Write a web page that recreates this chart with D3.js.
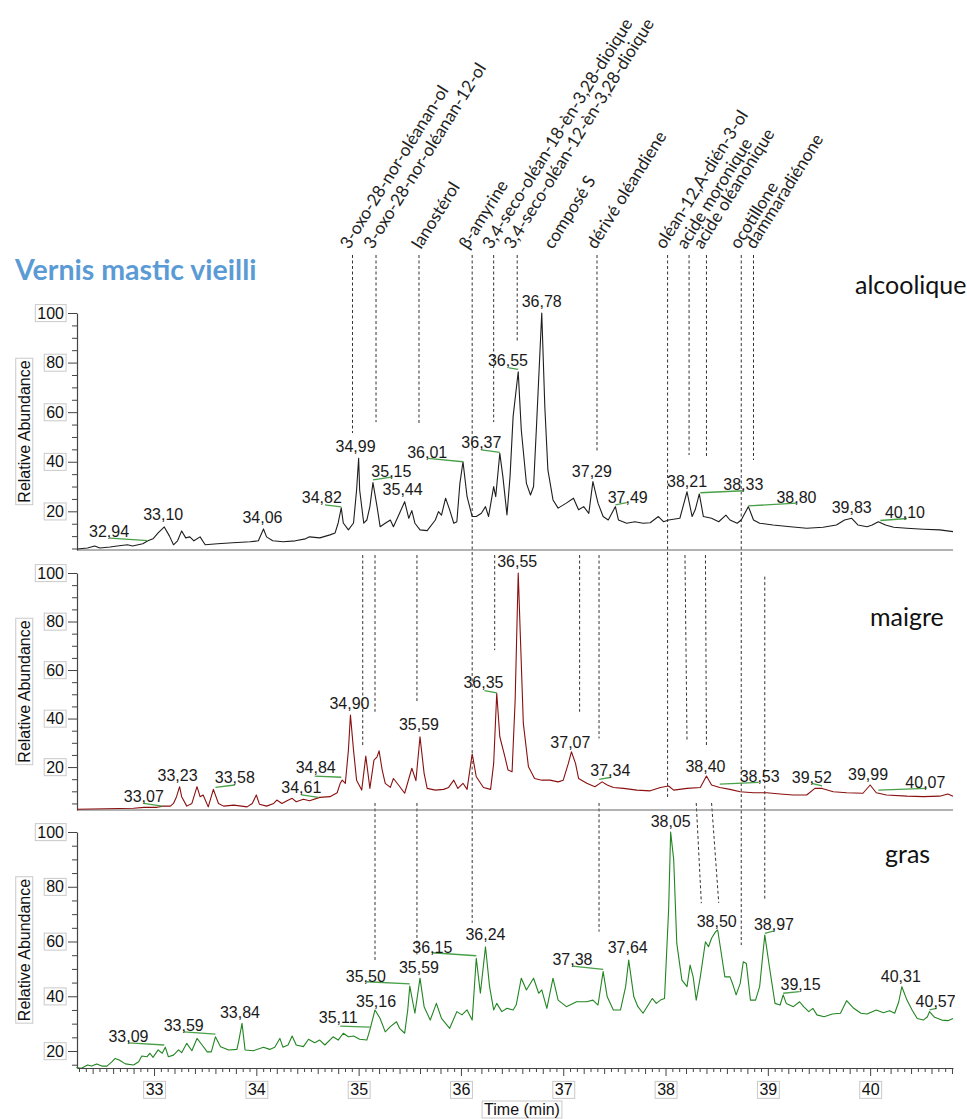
<!DOCTYPE html>
<html><head><meta charset="utf-8">
<script src="https://cdn.jsdelivr.net/npm/d3@7"></script>
<style>body{margin:0;background:#fff}svg{display:block}</style>
</head><body>
<svg id="c" width="967" height="1119"></svg>
<script>
// ---------------- DATA ----------------
const alcooliqueTrace = [[32.25,4.8],[32.35,5.2],[32.42,6.0],[32.47,5.2],[32.57,5.6],[32.64,6.0],[32.74,6.5],[32.79,6.0],[32.89,6.9],[32.94,8.1],[32.99,8.9],[33.04,11.3],[33.10,13.7],[33.15,10.1],[33.19,6.5],[33.23,8.1],[33.27,12.1],[33.31,9.3],[33.35,9.7],[33.39,8.1],[33.45,9.7],[33.50,6.5],[33.62,6.9],[33.77,7.3],[33.94,7.7],[34.02,8.1],[34.07,12.9],[34.10,9.7],[34.16,8.1],[34.26,7.7],[34.38,8.1],[34.48,8.9],[34.52,9.7],[34.62,9.3],[34.72,10.5],[34.77,11.3],[34.80,15.3],[34.83,21.4],[34.85,15.3],[34.90,12.5],[34.95,15.3],[34.98,28.6],[35.00,41.4],[35.01,28.6],[35.05,15.2],[35.08,16.5],[35.11,21.9],[35.14,31.6],[35.18,21.9],[35.21,13.8],[35.26,15.2],[35.31,16.5],[35.34,13.8],[35.40,19.2],[35.45,23.9],[35.49,17.2],[35.52,20.3],[35.55,15.2],[35.60,12.5],[35.67,12.2],[35.75,16.5],[35.78,19.9],[35.81,18.5],[35.85,25.3],[35.89,20.6],[35.93,15.2],[35.96,15.8],[35.99,31.3],[36.02,40.0],[36.06,25.9],[36.11,17.9],[36.15,17.9],[36.20,19.2],[36.24,21.9],[36.27,17.9],[36.32,30.0],[36.34,25.9],[36.38,43.4],[36.41,34.0],[36.45,18.5],[36.48,34.0],[36.51,58.2],[36.56,76.3],[36.59,52.8],[36.64,31.3],[36.68,26.6],[36.71,30.0],[36.74,55.5],[36.79,100],[36.82,62.2],[36.85,36.7],[36.90,24.6],[36.95,21.3],[37.03,23.3],[37.10,25.3],[37.15,20.6],[37.20,21.9],[37.25,19.2],[37.29,32.0],[37.34,23.3],[37.39,17.9],[37.44,16.5],[37.51,21.9],[37.54,16.5],[37.62,15.2],[37.70,15.8],[37.78,15.2],[37.85,15.4],[37.93,17.9],[37.98,15.8],[38.03,16.5],[38.14,17.2],[38.21,27.9],[38.26,17.9],[38.29,20.6],[38.33,27.0],[38.37,17.9],[38.45,17.2],[38.52,15.8],[38.59,18.5],[38.63,16.5],[38.70,15.2],[38.74,16.5],[38.81,21.9],[38.86,16.5],[38.92,15.2],[39.05,14.5],[39.22,13.8],[39.38,13.2],[39.54,13.6],[39.67,14.5],[39.75,16.5],[39.82,17.2],[39.88,14.5],[39.97,13.8],[40.02,14.5],[40.08,15.8],[40.15,14.5],[40.23,13.6],[40.36,13.2],[40.52,12.8],[40.68,12.5],[40.81,11.8]];

const maigreTrace = [[32.25,2.6],[32.80,3.0],[32.90,3.4],[33.03,3.4],[33.09,3.9],[33.16,3.9],[33.19,5.0],[33.22,7.8],[33.25,11.9],[33.27,7.8],[33.32,3.9],[33.37,5.0],[33.42,11.9],[33.45,7.8],[33.48,8.5],[33.53,3.6],[33.58,10.8],[33.63,5.0],[33.68,3.9],[33.78,4.3],[33.91,3.6],[33.96,5.0],[34.00,8.5],[34.03,4.7],[34.10,3.9],[34.17,5.0],[34.20,6.4],[34.25,5.0],[34.30,6.1],[34.35,7.1],[34.39,5.7],[34.46,6.7],[34.52,6.1],[34.62,7.5],[34.72,7.8],[34.79,9.4],[34.82,13.3],[34.84,14.6],[34.87,13.3],[34.90,27.0],[34.92,41.4],[34.95,27.0],[34.98,14.6],[35.03,10.5],[35.07,24.5],[35.11,11.2],[35.15,22.9],[35.18,24.2],[35.20,26.7],[35.23,18.8],[35.26,13.3],[35.31,11.6],[35.34,15.3],[35.39,12.6],[35.45,9.2],[35.52,19.5],[35.56,14.4],[35.60,32.5],[35.64,17.4],[35.67,11.2],[35.75,10.5],[35.83,10.8],[35.88,11.6],[35.93,14.6],[35.97,11.2],[36.02,13.3],[36.06,10.8],[36.11,25.4],[36.15,16.0],[36.22,11.6],[36.29,10.8],[36.32,21.5],[36.35,50.4],[36.38,32.5],[36.43,24.2],[36.46,18.8],[36.50,18.1],[36.53,47.6],[36.56,100],[36.58,75.1],[36.61,38.0],[36.66,20.1],[36.72,15.3],[36.79,14.6],[36.87,14.6],[36.95,13.9],[37.00,14.6],[37.05,21.5],[37.08,26.3],[37.12,21.5],[37.15,15.3],[37.23,13.3],[37.31,11.9],[37.38,13.9],[37.43,12.6],[37.49,11.6],[37.59,11.2],[37.72,10.5],[37.85,10.2],[37.95,11.6],[38.03,12.2],[38.08,10.5],[38.21,11.2],[38.34,11.6],[38.40,16.3],[38.45,12.6],[38.53,11.6],[38.63,10.8],[38.73,9.8],[38.86,9.4],[38.99,9.4],[39.12,8.9],[39.25,8.5],[39.38,8.5],[39.46,11.2],[39.53,11.2],[39.64,9.8],[39.77,9.4],[39.93,9.2],[40.00,12.6],[40.06,9.4],[40.16,8.5],[40.36,8.0],[40.52,7.8],[40.68,8.0],[40.76,8.9],[40.81,8.0]];

const grasTrace = [[32.24,14.0],[32.29,13.7],[32.35,14.9],[32.39,14.5],[32.44,15.3],[32.49,14.5],[32.54,14.5],[32.59,16.1],[32.62,17.3],[32.66,16.7],[32.72,15.3],[32.80,14.9],[32.85,16.1],[32.88,18.2],[32.93,17.9],[32.96,19.2],[32.99,17.7],[33.04,20.4],[33.08,19.2],[33.11,21.4],[33.14,17.9],[33.19,18.5],[33.24,20.4],[33.27,19.4],[33.32,22.8],[33.37,20.1],[33.42,24.6],[33.47,22.2],[33.52,19.7],[33.56,19.7],[33.60,25.2],[33.65,21.6],[33.73,20.4],[33.81,20.6],[33.83,24.0],[33.86,30.1],[33.89,20.4],[33.97,20.1],[34.07,21.4],[34.13,20.6],[34.18,21.4],[34.23,24.6],[34.26,21.4],[34.31,22.2],[34.35,25.5],[34.39,22.2],[34.46,21.6],[34.51,24.3],[34.57,23.0],[34.62,24.0],[34.67,22.2],[34.75,25.2],[34.80,24.0],[34.85,26.5],[34.90,25.2],[34.95,25.5],[35.01,24.3],[35.08,24.0],[35.11,27.7],[35.16,35.0],[35.21,31.9],[35.26,27.0],[35.31,28.9],[35.37,30.7],[35.40,28.3],[35.45,26.5],[35.48,35.0],[35.50,43.7],[35.55,33.8],[35.60,46.6],[35.64,36.2],[35.70,31.3],[35.76,37.4],[35.81,31.9],[35.89,28.3],[35.96,34.4],[36.01,33.2],[36.06,35.0],[36.11,31.3],[36.15,53.9],[36.19,41.1],[36.24,58.1],[36.28,43.5],[36.32,35.0],[36.35,37.4],[36.40,34.4],[36.45,35.6],[36.51,35.0],[36.54,36.8],[36.59,46.6],[36.64,42.3],[36.71,46.6],[36.76,41.1],[36.79,42.3],[36.84,35.6],[36.90,46.6],[36.95,38.6],[37.03,36.2],[37.13,38.0],[37.23,38.0],[37.29,38.6],[37.34,36.8],[37.39,49.0],[37.43,39.8],[37.49,35.0],[37.56,35.0],[37.61,43.5],[37.64,53.2],[37.69,39.8],[37.73,36.2],[37.78,33.8],[37.87,39.2],[37.91,37.4],[37.95,38.6],[37.99,39.2],[38.03,71.5],[38.05,100],[38.08,89.8],[38.11,59.3],[38.16,45.9],[38.21,43.5],[38.24,51.4],[38.27,47.1],[38.30,38.6],[38.34,47.1],[38.39,59.9],[38.42,58.1],[38.45,61.2],[38.49,63.6],[38.51,64.2],[38.54,56.9],[38.58,47.1],[38.63,47.1],[38.66,44.1],[38.69,40.5],[38.73,44.7],[38.76,52.6],[38.79,52.0],[38.83,38.6],[38.88,38.6],[38.92,43.5],[38.97,62.4],[39.02,49.6],[39.07,37.4],[39.12,36.8],[39.15,40.5],[39.18,37.4],[39.25,36.2],[39.31,38.0],[39.35,36.2],[39.40,34.4],[39.44,35.6],[39.48,33.2],[39.55,32.5],[39.63,33.5],[39.71,33.8],[39.77,38.4],[39.84,35.6],[39.91,33.8],[39.97,33.5],[40.06,35.0],[40.13,34.0],[40.19,34.7],[40.24,33.8],[40.28,38.0],[40.31,43.5],[40.36,38.6],[40.41,35.0],[40.46,31.9],[40.52,31.3],[40.56,32.5],[40.58,34.4],[40.63,32.3],[40.70,31.3],[40.76,31.1],[40.81,31.9]];

// peak labels: [text, time (centre), abundance (baseline)]
const alcooliqueLabels = [["32,94",32.56,9.8],["33,10",33.09,16.5],["34,06",34.06,15.3],["34,82",34.64,23.4],["34,99",34.97,44.1],["35,15",35.32,34.0],["35,44",35.43,26.6],["36,01",35.67,41.5],["36,37",36.20,45.6],["36,55",36.46,78.6],["36,78",36.79,102.4],["37,29",37.28,34.0],["37,49",37.63,23.4],["38,21",38.21,30.0],["38,33",38.76,28.6],["38,80",39.28,23.4],["39,83",39.82,19.4],["40,10",40.34,17.3]];
const alcooliqueLeaders = [[32.57,9.2,32.94,8.2],[34.67,22.6,34.83,21.8],[35.14,32.7,35.32,33.8],[35.68,41.4,36.02,40.0],[36.20,44.8,36.38,43.8],[36.47,77.9,36.56,77.3],[37.51,22.6,37.62,23.5],[38.34,27.5,38.76,28.3],[38.81,22.2,39.28,23.3],[40.10,16.3,40.36,17.1]];

const maigreLabels = [["33,07",32.90,5.7],["33,23",33.23,14.4],["33,58",33.79,13.3],["34,61",34.44,9.2],["34,84",34.58,17.4],["34,90",34.91,43.8],["35,59",35.59,35.3],["36,35",36.22,52.5],["36,55",36.55,102.6],["37,07",37.07,27.7],["37,34",37.46,16.3],["38,40",38.39,18.1],["38,53",38.92,13.9],["39,52",39.43,13.3],["39,99",39.98,14.6],["40,07",40.54,11.2]];
const maigreLeaders = [[32.90,5.0,33.08,3.9],[33.60,11.6,33.79,12.6],[34.44,8.5,34.61,7.5],[34.57,16.3,34.83,15.8],[36.23,51.5,36.35,50.6],[37.35,14.9,37.47,15.8],[38.53,13.0,38.91,13.7],[39.43,13.3,39.53,12.2],[40.08,10.5,40.55,11.2]];

const grasLabels = [["33,09",32.75,23.4],["33,59",33.29,27.4],["33,84",33.84,31.9],["35,11",34.80,30.2],["35,16",35.17,36.2],["35,50",35.07,45.3],["35,59",35.59,48.4],["36,15",35.72,55.9],["36,24",36.24,60.5],["37,38",37.09,51.4],["37,64",37.63,55.9],["38,05",38.05,101.9],["38,50",38.50,65.4],["38,97",39.06,64.2],["39,15",39.32,42.3],["40,31",40.30,45.3],["40,57",40.64,36.2]];
const grasLeaders = [[32.75,23.0,33.10,22.2],[33.29,27.0,33.60,26.2],[34.82,29.1,35.11,28.7],[35.08,45.3,35.50,44.5],[35.72,55.9,36.15,54.8],[37.09,51.0,37.39,49.8],[38.97,63.0,39.06,63.9],[39.15,41.1,39.31,41.7],[40.58,35.0,40.65,35.6]];

// compound names (rotated) and the retention time at which each name stands
const compoundNames = ["3-oxo-28-nor-oléanan-ol","3-oxo-28-nor-oléanan-12-ol","lanostérol","β-amyrine","3,4-seco-oléan-18-èn-3,28-dioique","3,4-seco-oléan-12-èn-3,28-dioique","composé S","dérivé oléandiene","oléan-12,A-dién-3-ol","acide moronique","acide oléanonique","ocotillone","dammaradiénone"];
const compoundTimes = [34.85,35.08,35.55,36.01,36.24,36.45,36.84,37.26,37.93,38.14,38.30,38.66,38.81];

// dashed guides: [time1, panel1, abundance1, time2, panel2, abundance2]
const guideSegments = [
  [34.94,0,123.4,34.94,0,51.6],[35.17,0,123.4,35.17,0,56.0],[35.59,0,123.4,35.59,0,55.6],
  [36.11,0,123.4,36.11,2,66.8],[36.32,0,123.4,36.32,0,56.0],[36.55,0,123.4,36.55,0,87.9],
  [37.33,0,123.4,37.33,0,44.0],[38.02,0,123.4,38.02,1,7.2],[38.23,0,123.4,38.23,0,42.7],
  [38.40,0,123.4,38.40,0,41.5],[38.74,0,123.4,38.74,2,58.7],[38.86,0,123.4,38.86,0,40.7],
  [35.04,1,107.4,35.04,1,28.4],[35.16,1,107.4,35.16,1,42.8],[35.57,1,107.4,35.57,1,46.9],
  [36.33,1,107.4,36.33,1,68.2],[37.16,1,107.4,37.16,1,42.8],[37.35,1,107.4,37.35,1,31.8],
  [38.19,1,107.4,38.21,1,30.4],[38.39,1,107.4,38.40,1,29.1],[38.97,1,98.5,38.97,2,75.2],
  [35.16,2,110.6,35.16,2,52.5],[35.57,2,110.6,35.57,2,55.1],[37.35,2,110.6,37.35,2,63.6],
  [38.30,2,110.6,38.35,2,74.0],[38.45,2,110.6,38.52,2,74.1]
];

const panelNames = ["alcoolique","maigre","gras"];
const panelMins = [4.4,2.3,13.8];
const yTickValues = [20,40,60,80,100];
const xTickValues = [33,34,35,36,37,38,39,40];
const timeDomain = [32.247,40.81];
const title = "Vernis mastic vieilli";
const yTitle = "Relative Abundance";
const xTitle = "Time (min)";

// ---------------- LAYOUT ----------------
const svg = d3.select("#c");
const NUM = "'Liberation Sans', Arial, sans-serif";
const CAL = "Lato, 'Open Sans', sans-serif";
const L = 77, R = 953;
const layout = [
  {top:313,bottom:550,color:"#1e1e1e",nameX:855,nameY:294},
  {top:573,bottom:810,color:"#8a1010",nameX:870,nameY:626},
  {top:832,bottom:1068,color:"#228522",nameX:885,nameY:863}
];
const traces = [alcooliqueTrace, maigreTrace, grasTrace];
const labels = [alcooliqueLabels, maigreLabels, grasLabels];
const leaders = [alcooliqueLeaders, maigreLeaders, grasLeaders];

const x = d3.scaleLinear().domain(timeDomain).range([L,R]);
const ys = layout.map((p,i)=>d3.scaleLinear().domain([panelMins[i],100]).range([p.bottom,p.top]));

svg.append("defs").append("clipPath").attr("id","clipR")
  .append("rect").attr("x",0).attr("y",0).attr("width",955).attr("height",1119);

function boxify(sel){
  sel.each(function(){
    const b=this.getBBox();
    d3.select(this.parentNode).insert("rect",()=>this)
      .attr("x",b.x-2).attr("y",b.y).attr("width",b.width+4).attr("height",b.height)
      .attr("fill","#fff").attr("stroke","#c9c9c9").attr("stroke-width",1);
  });
}

// title
svg.append("text").attr("x",15).attr("y",280).text(title)
  .attr("font-family",CAL).attr("font-weight","bold").attr("font-size",28.5).attr("fill","#5B9BD5");

// guides
const gGuides = svg.append("g");
gGuides.selectAll("line").data(guideSegments).join("line")
  .attr("x1",d=>x(d[0])).attr("y1",d=>ys[d[1]](d[2]))
  .attr("x2",d=>x(d[3])).attr("y2",d=>ys[d[4]](d[5]))
  .attr("stroke","#333").attr("stroke-width",1).attr("stroke-dasharray","3,2.5");

// compound names
svg.append("g").selectAll("text").data(compoundNames).join("text")
  .attr("transform",(d,i)=>`translate(${x(compoundTimes[i])+6},250) rotate(-58)`)
  .attr("font-family",CAL).attr("font-size",17.3).attr("fill","#222")
  .text(d=>d);

layout.forEach((p,i)=>{
  const y = ys[i];
  const g = svg.append("g");
  g.append("text").attr("x",p.nameX).attr("y",p.nameY).text(panelNames[i])
    .attr("font-family",CAL).attr("font-size",25).attr("fill","#111");
  if(i<2){
    g.append("line").attr("x1",L).attr("x2",R).attr("y1",p.bottom).attr("y2",p.bottom)
      .attr("stroke","#666").attr("stroke-width",1.2);
  }
  const minorVals = d3.range(5,100,5).filter(v=>v>=panelMins[i] && v%20!==0);
  const gm = g.append("g").attr("transform",`translate(${L},0)`)
    .call(d3.axisLeft(y).tickValues(minorVals).tickSize(5).tickFormat(""));
  gm.select(".domain").remove();
  const ga = g.append("g").attr("transform",`translate(${L},0)`)
    .call(d3.axisLeft(y).tickValues(yTickValues).tickSize(9).tickSizeOuter(0).tickPadding(4));
  g.selectAll(".tick line").attr("stroke","#444");
  ga.select(".domain").attr("stroke","#444").attr("stroke-width",1.2);
  ga.selectAll("text").attr("font-family",NUM).attr("font-size",16).attr("fill","#111");
  boxify(ga.selectAll(".tick text"));
  const gt = g.append("g").attr("transform",`translate(24,${(p.top+p.bottom)/2}) rotate(-90)`);
  const tt = gt.append("text").attr("text-anchor","middle").attr("dy","0.36em")
    .attr("font-family",NUM).attr("font-size",16).attr("fill","#111").text(yTitle);
  boxify(tt);
  g.append("path").datum(traces[i])
    .attr("d",d3.line().x(d=>x(d[0])).y(d=>y(d[1])))
    .attr("fill","none").attr("stroke",p.color).attr("stroke-width",1.1).attr("stroke-linejoin","round");
  const gl = g.append("g").attr("clip-path","url(#clipR)");
  gl.selectAll("line").data(leaders[i]).join("line")
    .attr("x1",d=>x(d[0])).attr("y1",d=>y(d[1])).attr("x2",d=>x(d[2])).attr("y2",d=>y(d[3]))
    .attr("stroke","#48a048").attr("stroke-width",1.3);
  gl.selectAll("text").data(labels[i]).join("text")
    .attr("x",d=>x(d[1])).attr("y",d=>y(d[2])).attr("text-anchor","middle")
    .attr("font-family",NUM).attr("font-size",16).attr("fill","#1a1a1a").text(d=>d[0]);
});

// x axis (bottom panel)
const yb = layout[2].bottom;
const gx = svg.append("g").attr("transform",`translate(0,${yb})`);
const medium = d3.range(32.4,40.81,0.2).filter(v=>Math.abs(v-Math.round(v))>0.01);
const minor = d3.range(32.2667,40.81,0.2/3).filter(v=>{const r=(v*5)%1;return Math.abs(r)>0.05&&Math.abs(r-1)>0.05;});
gx.append("g").call(d3.axisBottom(x).tickValues(minor).tickSize(4).tickFormat("")).select(".domain").remove();
gx.append("g").call(d3.axisBottom(x).tickValues(medium).tickSize(6).tickFormat("")).select(".domain").remove();
const gxa = gx.append("g").call(d3.axisBottom(x).tickValues(xTickValues).tickSize(8).tickSizeOuter(0).tickPadding(8).tickFormat(d3.format("d")));
gx.selectAll(".tick line").attr("stroke","#444");
gxa.select(".domain").attr("stroke","#444").attr("stroke-width",1.2);
gxa.selectAll("text").attr("font-family",NUM).attr("font-size",16).attr("fill","#111");
boxify(gxa.selectAll(".tick text"));
const xt = svg.append("text").attr("x",522).attr("y",1115).attr("text-anchor","middle")
  .attr("font-family",NUM).attr("font-size",16).attr("fill","#111").text(xTitle);
boxify(xt);
</script>
</body></html>
